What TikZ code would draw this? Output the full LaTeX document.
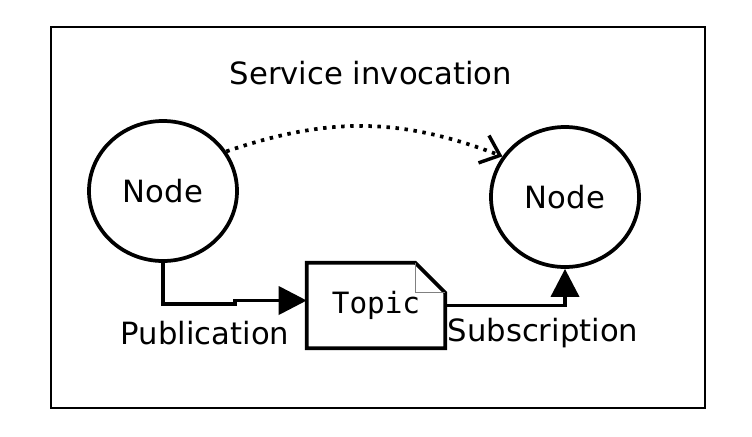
\documentclass[tikz,border=0pt]{standalone}
\usepackage{fontspec}
\setmainfont{DejaVu Sans}
\setmonofont{DejaVu Sans Mono}
\usetikzlibrary{arrows.meta,positioning,shapes.geometric}

\begin{document}
\begin{tikzpicture}[
    x=0.75pt, y=-0.75pt,
    font=\fontsize{23}{27}\selectfont,
    proc/.style={draw, ellipse, line width=2.8pt, minimum width=111pt, minimum height=105pt, inner sep=0pt},
    doc/.style={minimum width=103.5pt, minimum height=63.75pt, inner sep=0pt, font=\fontsize{22}{26}\selectfont\ttfamily},
    flow/.style={line width=2.8pt, -{Triangle[length=21pt, width=21pt]}},
    invoke/.style={line width=2.8pt, dash pattern=on 2.6pt off 4.2pt, -{Straight Barb[length=13pt, width=22pt, line width=2.6pt]}}
]
\useasboundingbox (0,0) rectangle (752,436);
\draw[line width=0.8pt] (51,27) rectangle (705,408);

\node[proc] (talker) at (163,191) {Node};
\node[proc] (listener) at (565,197) {Node};
\node[doc] (topic) at (376,305.5) {\raisebox{2pt}{Topic}};
\node (call) at (371,73) {Service invocation};

% the topic sheet with its folded corner
\draw[line width=2.8pt, line join=miter] (topic.north west) -- ([xshift=-22.5pt]topic.north east)
    -- ([yshift=-22.5pt]topic.north east) -- (topic.south east) -- (topic.south west) -- cycle;
\draw[gray, line width=0.6pt] ([xshift=-22.5pt]topic.north east) -- ++(0,30) -- ++(30,0);

\draw[flow] (talker.south) -- (163,304) -- (235,304) -- (235,300.5) -- (topic.west |- 0,300.5);
\draw[flow] (topic.east) -| (listener.south);
\draw[invoke] (talker.32) to[bend left=20] (listener.147);

\node (pub) at (205,333) {Publication};
\node (sub) at (543,333) {Subscription};
\end{tikzpicture}
\end{document}
